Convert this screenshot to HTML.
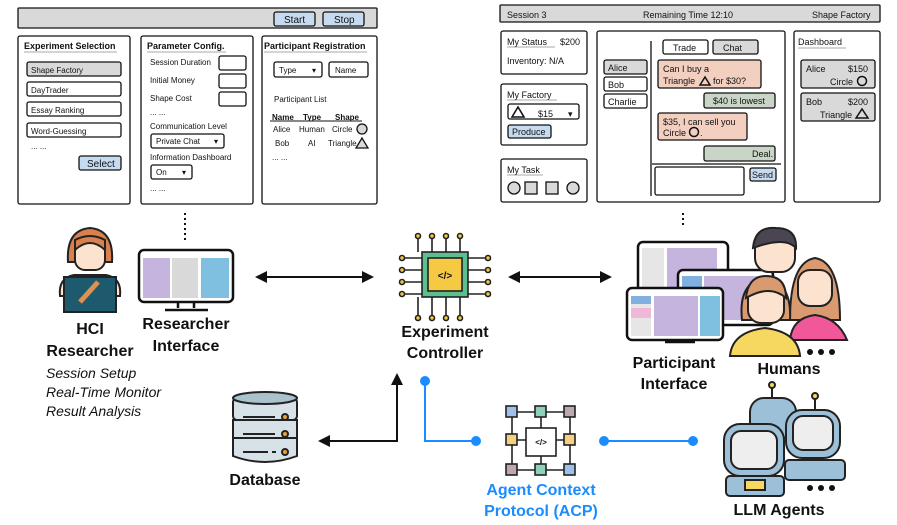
<!DOCTYPE html>
<html><head><meta charset="utf-8"><style>
html,body{margin:0;padding:0;background:#fff}
svg{display:block}
text{font-family:"Liberation Sans",sans-serif;fill:#111}
.s{font-size:8px}
.t{font-size:9px;font-weight:bold}
.b{font-size:16px;font-weight:bold}
.i{font-size:14px;font-style:italic}
</style></head><body>
<svg width="897" height="525" viewBox="0 0 897 525" xmlns="http://www.w3.org/2000/svg">
<defs>
<marker id="ah" markerWidth="12" markerHeight="12" refX="10" refY="6" orient="auto-start-reverse" markerUnits="userSpaceOnUse"><path d="M0,0 L12,6 L0,12 Z" fill="#111"/></marker>
</defs>
<g stroke="#111" stroke-width="1.3" fill="none">
<rect x="18" y="8" width="359" height="20" fill="#d9d9d9" rx="1"/>
<rect x="274" y="12" width="41" height="14" fill="#c6dbef" rx="2"/>
<rect x="323" y="12" width="41" height="14" fill="#c6dbef" rx="2"/>
<rect x="18" y="36" width="112" height="168" fill="#fff" rx="2"/>
<rect x="141" y="36" width="112" height="168" fill="#fff" rx="2"/>
<rect x="262" y="36" width="115" height="168" fill="#fff" rx="2"/>
<rect x="27" y="62" width="94" height="14" fill="#d9d9d9" rx="2"/>
<rect x="27" y="82" width="94" height="14" fill="#fff" rx="2"/>
<rect x="27" y="102" width="94" height="14" fill="#fff" rx="2"/>
<rect x="27" y="123" width="94" height="14" fill="#fff" rx="2"/>
<rect x="79" y="156" width="42" height="14" fill="#c6dbef" rx="2"/>
<rect x="219" y="56" width="27" height="14" rx="2"/>
<rect x="219" y="74" width="27" height="14" rx="2"/>
<rect x="219" y="92" width="27" height="14" rx="2"/>
<rect x="151" y="134" width="73" height="14" rx="2"/>
<rect x="151" y="165" width="41" height="14" rx="2"/>
<rect x="274" y="62" width="48" height="15" rx="2"/>
<rect x="329" y="62" width="39" height="15" rx="2"/>
<circle cx="362" cy="129" r="5" fill="#d9d9d9"/>
<path d="M356,148 L362,138 L368,148 Z" fill="#d9d9d9"/>
<rect x="500" y="5" width="380" height="17" fill="#d9d9d9" rx="1"/>
<rect x="501" y="31" width="86" height="43" rx="2"/>
<rect x="501" y="84" width="86" height="61" rx="2"/>
<rect x="501" y="159" width="86" height="43" rx="2"/>
<rect x="597" y="31" width="188" height="171" rx="2"/>
<rect x="794" y="31" width="86" height="171" rx="2"/>
<rect x="508" y="104" width="71" height="15" rx="2"/>
<path d="M512,117 L518,107 L524,117 Z" stroke-width="1.6"/>
<rect x="508" y="125" width="43" height="13" fill="#c6dbef" rx="2"/>
<circle cx="514" cy="188" r="6" fill="#d9d9d9"/>
<rect x="525" y="182" width="12" height="12" fill="#d9d9d9"/>
<rect x="546" y="182" width="12" height="12" fill="#d9d9d9"/>
<circle cx="573" cy="188" r="6" fill="#d9d9d9"/>
<line x1="651" y1="41" x2="651" y2="196"/>
<line x1="652" y1="164" x2="781" y2="164"/>
<rect x="604" y="60" width="43" height="14" fill="#d9d9d9" rx="2"/>
<rect x="604" y="77" width="43" height="14" fill="#fff" rx="2"/>
<rect x="604" y="94" width="43" height="14" fill="#fff" rx="2"/>
<rect x="663" y="40" width="45" height="14" rx="2"/>
<rect x="713" y="40" width="45" height="14" fill="#d9d9d9" rx="2"/>
<rect x="658" y="60" width="103" height="28" fill="#f3cfbf" rx="2"/>
<rect x="704" y="93" width="71" height="15" fill="#c9d5c6" rx="2"/>
<rect x="658" y="113" width="89" height="27" fill="#f3cfbf" rx="2"/>
<rect x="704" y="146" width="71" height="15" fill="#c9d5c6" rx="2"/>
<rect x="655" y="167" width="89" height="28" rx="2"/>
<rect x="750" y="168" width="26" height="13" fill="#c6dbef" rx="2"/>
<rect x="801" y="60" width="74" height="28" fill="#d9d9d9" rx="2"/>
<rect x="801" y="93" width="74" height="28" fill="#d9d9d9" rx="2"/>
<path d="M700,85 L705,77 L710,85 Z" stroke-width="1.5"/>
<circle cx="694" cy="132" r="4.5" stroke-width="1.5"/>
<circle cx="862" cy="81" r="4.5" stroke-width="1.5"/>
<path d="M856,118 L862,109 L868,118 Z" stroke-width="1.5"/>
</g>
<g stroke="#aaa" stroke-width="1">
<line x1="24" y1="52" x2="117" y2="52"/><line x1="147" y1="52" x2="226" y2="52"/><line x1="264" y1="52" x2="367" y2="52"/>
<line x1="270" y1="121" x2="362" y2="121" stroke="#111"/>
<line x1="507" y1="47" x2="555" y2="47"/><line x1="507" y1="100" x2="557" y2="100"/><line x1="507" y1="175" x2="543" y2="175"/><line x1="798" y1="48" x2="846" y2="48"/>
</g>
<text x="284" y="23" style="font-size:10px">Start</text>
<text x="334" y="23" style="font-size:10px">Stop</text>
<text x="24" y="49" class="t">Experiment Selection</text>
<text x="147" y="49" class="t">Parameter Config.</text>
<text x="264" y="49" class="t">Participant Registration</text>
<text x="31" y="73" class="s">Shape Factory</text>
<text x="31" y="93" class="s">DayTrader</text>
<text x="31" y="113" class="s">Essay Ranking</text>
<text x="31" y="134" class="s">Word-Guessing</text>
<text x="31" y="149" class="s">... ...</text>
<text x="87" y="167" style="font-size:10px">Select</text>
<text x="150" y="65" class="s">Session Duration</text>
<text x="150" y="83" class="s">Initial Money</text>
<text x="150" y="101" class="s">Shape Cost</text>
<text x="150" y="115" class="s">... ...</text>
<text x="150" y="129" class="s">Communication Level</text>
<text x="156" y="144" class="s">Private Chat</text><text x="214" y="144" class="s">▾</text>
<text x="150" y="160" class="s">Information Dashboard</text>
<text x="156" y="175" class="s">On</text><text x="182" y="175" class="s">▾</text>
<text x="150" y="191" class="s">... ...</text>
<text x="279" y="73" class="s">Type</text><text x="312" y="73" class="s">▾</text>
<text x="335" y="73" class="s">Name</text>
<text x="274" y="102" class="s">Participant List</text>
<text x="272" y="120" class="s" font-weight="bold">Name</text>
<text x="303" y="120" class="s" font-weight="bold">Type</text>
<text x="335" y="120" class="s" font-weight="bold">Shape</text>
<text x="273" y="132" class="s">Alice</text><text x="299" y="132" class="s">Human</text><text x="332" y="132" class="s">Circle</text>
<text x="275" y="146" class="s">Bob</text><text x="308" y="146" class="s">AI</text><text x="328" y="146" class="s">Triangle</text>
<text x="272" y="160" class="s">... ...</text>
<text x="507" y="18" style="font-size:9px">Session 3</text>
<text x="643" y="18" style="font-size:9px">Remaining Time 12:10</text>
<text x="812" y="18" style="font-size:9px">Shape Factory</text>
<text x="507" y="45" style="font-size:9px">My Status</text><text x="560" y="45" style="font-size:9px">$200</text>
<text x="507" y="64" style="font-size:9px">Inventory: N/A</text>
<text x="507" y="98" style="font-size:9px">My Factory</text>
<text x="538" y="117" style="font-size:9px">$15</text><text x="568" y="117" style="font-size:9px">▾</text>
<text x="512" y="135" style="font-size:9px">Produce</text>
<text x="507" y="173" style="font-size:9px">My Task</text>
<text x="608" y="71" style="font-size:9px">Alice</text>
<text x="608" y="88" style="font-size:9px">Bob</text>
<text x="608" y="105" style="font-size:9px">Charlie</text>
<text x="673" y="51" style="font-size:9px">Trade</text>
<text x="723" y="51" style="font-size:9px">Chat</text>
<text x="663" y="72" style="font-size:9px">Can I buy a</text>
<text x="663" y="84" style="font-size:9px">Triangle</text><text x="713" y="84" style="font-size:9px">for $30?</text>
<text x="713" y="104" style="font-size:9px">$40  is lowest</text>
<text x="663" y="125" style="font-size:9px">$35, I can sell you</text>
<text x="663" y="136" style="font-size:9px">Circle</text><text x="700" y="136" style="font-size:9px">.</text>
<text x="752" y="157" style="font-size:9px">Deal.</text>
<text x="752" y="178" style="font-size:9px">Send</text>
<text x="798" y="45" style="font-size:9px">Dashboard</text>
<text x="806" y="72" style="font-size:9px">Alice</text><text x="848" y="72" style="font-size:9px">$150</text>
<text x="830" y="85" style="font-size:9px">Circle</text>
<text x="806" y="105" style="font-size:9px">Bob</text><text x="848" y="105" style="font-size:9px">$200</text>
<text x="820" y="118" style="font-size:9px">Triangle</text>
<line x1="185" y1="213" x2="185" y2="240" stroke="#111" stroke-width="2" stroke-dasharray="2,3"/>
<line x1="683" y1="213" x2="683" y2="225" stroke="#111" stroke-width="2" stroke-dasharray="2,3"/>
<g stroke="#222" stroke-width="2">
<path d="M68,262 Q66,230 90,228 Q114,230 112,262 Z" fill="#d9804f"/>
<rect x="75" y="240" width="30" height="30" rx="10" fill="#fbe3cf"/>
<path d="M75,250 Q90,236 105,250 L105,240 Q90,232 75,240 Z" fill="#d9804f"/>
<path d="M60,296 Q58,278 74,275 L106,275 Q122,278 120,296 Z" fill="#fbe3cf"/>
<rect x="64" y="277" width="52" height="35" fill="#1e5a6e"/>
<path d="M80,302 L98,282" stroke="#e0904f" stroke-width="5"/>
</g>
<g stroke="#111" stroke-width="2.5">
<rect x="139" y="250" width="94" height="52" rx="5" fill="#fff"/>
<rect x="143" y="258" width="27" height="40" fill="#c5b4de" stroke="none"/>
<rect x="172" y="258" width="26" height="40" fill="#d9d9d9" stroke="none"/>
<rect x="201" y="258" width="28" height="40" fill="#7fbfe0" stroke="none"/>
<path d="M178,302 L178,308 M194,302 L194,308 M165,310 L208,310"/>
</g>
<g stroke="#111" stroke-width="2" fill="none">
<line x1="257" y1="277" x2="372" y2="277" marker-start="url(#ah)" marker-end="url(#ah)"/>
<line x1="510" y1="277" x2="610" y2="277" marker-start="url(#ah)" marker-end="url(#ah)"/>
<polyline points="320,441 397,441 397,375" marker-start="url(#ah)" marker-end="url(#ah)"/>
</g>
<g stroke="#222" stroke-width="1.6" fill="none">
<path d="M418,236 V252 M432,236 V252 M446,236 V252 M460,236 V252 M418,297 V318 M432,297 V318 M446,297 V318 M460,297 V318 M402,258 H422 M402,270 H422 M402,282 H422 M402,294 H422 M468,258 H488 M468,270 H488 M468,282 H488 M468,294 H488"/>
<g fill="#f6c945"><circle cx="418" cy="236" r="2.5"/><circle cx="432" cy="236" r="2.5"/><circle cx="446" cy="236" r="2.5"/><circle cx="460" cy="236" r="2.5"/><circle cx="418" cy="318" r="2.5"/><circle cx="432" cy="318" r="2.5"/><circle cx="446" cy="318" r="2.5"/><circle cx="460" cy="318" r="2.5"/><circle cx="402" cy="258" r="2.5"/><circle cx="402" cy="270" r="2.5"/><circle cx="402" cy="282" r="2.5"/><circle cx="402" cy="294" r="2.5"/><circle cx="488" cy="258" r="2.5"/><circle cx="488" cy="270" r="2.5"/><circle cx="488" cy="282" r="2.5"/><circle cx="488" cy="294" r="2.5"/></g>
<rect x="422" y="252" width="46" height="45" fill="#5cbf8f"/>
<rect x="428" y="258" width="34" height="33" fill="#f6c945"/>
</g>
<text x="445" y="279" text-anchor="middle" style="font-size:10px;font-weight:bold">&lt;/&gt;</text>
<g stroke="#111" stroke-width="2.5">
<rect x="638" y="242" width="90" height="62" rx="5" fill="#fff"/>
<rect x="642" y="248" width="22" height="50" fill="#e6e6e6" stroke="none"/><rect x="667" y="248" width="50" height="50" fill="#c5b4de" stroke="none"/>
<rect x="678" y="270" width="95" height="55" rx="5" fill="#fff"/>
<rect x="682" y="276" width="20" height="44" fill="#7fb0e0" stroke="none"/><rect x="704" y="276" width="60" height="44" fill="#c5b4de" stroke="none"/>
<rect x="627" y="288" width="96" height="52" rx="5" fill="#fff"/>
<rect x="631" y="296" width="20" height="40" fill="#e6e6e6" stroke="none"/><rect x="631" y="296" width="20" height="8" fill="#7fb0e0" stroke="none"/><rect x="631" y="308" width="20" height="10" fill="#f0b8d8" stroke="none"/>
<rect x="654" y="296" width="44" height="40" fill="#c5b4de" stroke="none"/><rect x="700" y="296" width="20" height="40" fill="#7fbfe0" stroke="none"/>
<path d="M665,342 H695" />
</g>
<g stroke="#222" stroke-width="2">
<rect x="755" y="232" width="40" height="40" rx="14" fill="#fbe3cf"/>
<path d="M753,248 Q755,226 776,228 Q797,228 796,248 Q785,236 753,248Z" fill="#4a4550"/>
<path d="M790,320 Q790,262 815,258 Q840,262 840,320 Z" fill="#d99a70"/>
<rect x="798" y="270" width="34" height="36" rx="12" fill="#fbe3cf"/>
<path d="M790,340 Q792,318 815,315 Q838,318 847,340 Z" fill="#f0589a"/>
<path d="M730,356 Q732,332 765,328 Q798,332 800,356 Z" fill="#f6d860"/>
<path d="M742,320 Q738,282 765,278 Q792,282 790,320 Z" fill="#d99a70"/>
<rect x="748" y="285" width="36" height="38" rx="13" fill="#fbe3cf"/>
<path d="M746,298 Q748,276 766,276 Q786,276 786,298 Q770,284 746,298Z" fill="#d99a70"/>
</g>
<g fill="#111"><circle cx="810" cy="352" r="3"/><circle cx="821" cy="352" r="3"/><circle cx="832" cy="352" r="3"/>
<circle cx="810" cy="488" r="3"/><circle cx="821" cy="488" r="3"/><circle cx="832" cy="488" r="3"/></g>
<g stroke="#222" stroke-width="2" fill="#d6e2e8">
<rect x="233" y="398" width="64" height="22" rx="4"/>
<rect x="233" y="420" width="64" height="18"/>
<path d="M233,438 V456 Q265,468 297,456 V438 Z"/>
<ellipse cx="265" cy="398" rx="32" ry="6" fill="#a9c2cc"/>
<path d="M243,417 H275 M243,434 H275 M243,452 H268 M272,452 H276" fill="none"/>
<g fill="#f0a030"><circle cx="285" cy="417" r="3"/><circle cx="285" cy="434" r="3"/><circle cx="285" cy="452" r="3"/></g>
</g>
<g stroke="#1a8cff" stroke-width="2" fill="none">
<polyline points="425,381 425,441 476,441"/>
<line x1="604" y1="441" x2="693" y2="441"/>
</g>
<g fill="#1a8cff"><circle cx="425" cy="381" r="5"/><circle cx="476" cy="441" r="5"/><circle cx="604" cy="441" r="5"/><circle cx="693" cy="441" r="5"/></g>
<g stroke="#222" stroke-width="1.6">
<path d="M512,412 H570 M512,440 H570 M512,470 H570 M512,412 V470 M541,412 V470 M570,412 V470" fill="none"/>
<rect x="526" y="428" width="30" height="28" fill="#fff"/>
<rect x="506" y="406" width="11" height="11" fill="#9fc0ec"/><rect x="535" y="406" width="11" height="11" fill="#8fd0b8"/><rect x="564" y="406" width="11" height="11" fill="#bba8b0"/>
<rect x="506" y="434" width="11" height="11" fill="#f5d080"/><rect x="564" y="434" width="11" height="11" fill="#f5d080"/>
<rect x="506" y="464" width="11" height="11" fill="#bba8b0"/><rect x="535" y="464" width="11" height="11" fill="#8fd0b8"/><rect x="564" y="464" width="11" height="11" fill="#9fc0ec"/>
</g>
<text x="541" y="445" text-anchor="middle" style="font-size:8px;font-weight:bold">&lt;/&gt;</text>
<g stroke="#222" stroke-width="2">
<path d="M772,385 V398 M815,398 V410 M754,412 V424" fill="none"/>
<circle cx="772" cy="385" r="3" fill="#f6d860"/><circle cx="815" cy="396" r="3" fill="#f6d860"/><circle cx="754" cy="410" r="3" fill="#f6d860"/>
<rect x="750" y="398" width="46" height="40" rx="14" fill="#9cc0d8"/>
<rect x="786" y="410" width="54" height="48" rx="16" fill="#9cc0d8"/><rect x="793" y="416" width="40" height="34" rx="10" fill="#eee"/>
<rect x="785" y="460" width="60" height="20" rx="4" fill="#9cc0d8"/>
<rect x="724" y="424" width="60" height="52" rx="16" fill="#9cc0d8"/><rect x="731" y="431" width="46" height="38" rx="10" fill="#eee"/>
<rect x="726" y="476" width="58" height="20" rx="4" fill="#9cc0d8"/><rect x="745" y="480" width="20" height="10" fill="#f6d860"/>
</g>
<text x="90" y="334" text-anchor="middle" class="b">HCI</text>
<text x="90" y="356" text-anchor="middle" class="b">Researcher</text>
<text x="186" y="329" text-anchor="middle" class="b">Researcher</text>
<text x="186" y="351" text-anchor="middle" class="b">Interface</text>
<text x="46" y="378" class="i">Session Setup</text>
<text x="46" y="397" class="i">Real-Time Monitor</text>
<text x="46" y="416" class="i">Result Analysis</text>
<text x="445" y="337" text-anchor="middle" class="b">Experiment</text>
<text x="445" y="358" text-anchor="middle" class="b">Controller</text>
<text x="674" y="368" text-anchor="middle" class="b">Participant</text>
<text x="674" y="389" text-anchor="middle" class="b">Interface</text>
<text x="789" y="374" text-anchor="middle" class="b">Humans</text>
<text x="265" y="485" text-anchor="middle" class="b">Database</text>
<text x="541" y="495" text-anchor="middle" class="b" style="fill:#1a8cff">Agent Context</text>
<text x="541" y="516" text-anchor="middle" class="b" style="fill:#1a8cff">Protocol (ACP)</text>
<text x="779" y="515" text-anchor="middle" class="b">LLM Agents</text>
</svg>
</body></html>
